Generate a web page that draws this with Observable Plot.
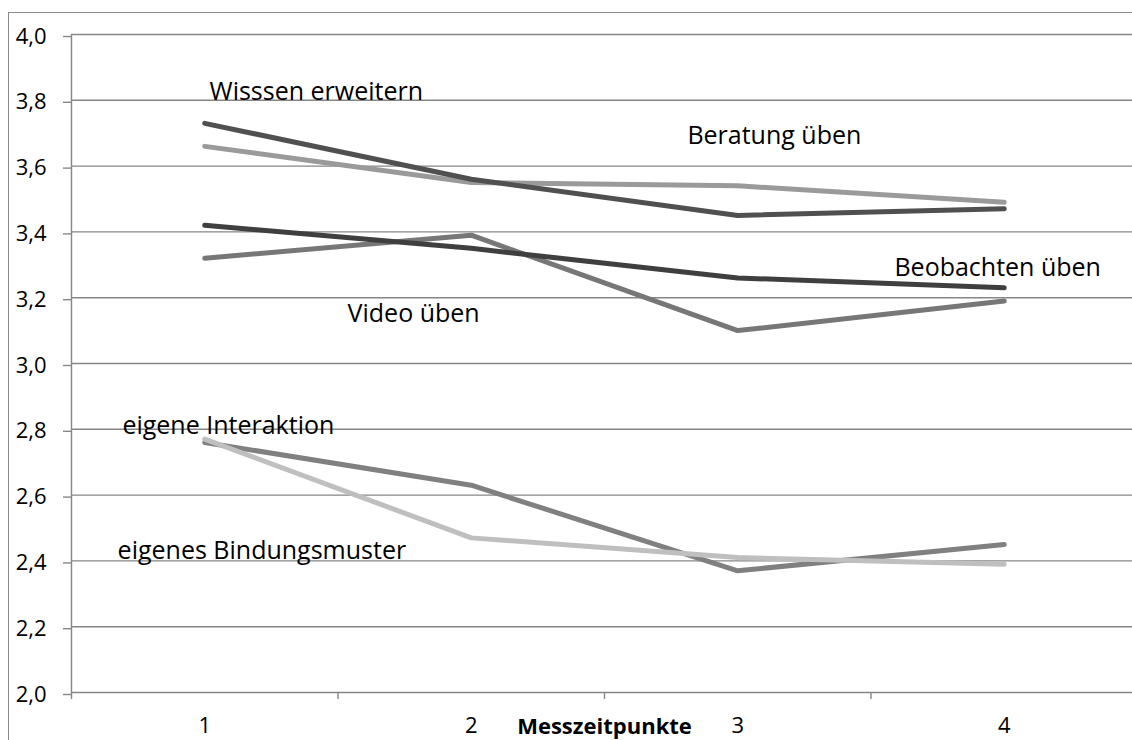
<!DOCTYPE html>
<html>
<head>
<meta charset="utf-8">
<script src="https://cdn.jsdelivr.net/npm/d3@7"></script>
<script src="https://cdn.jsdelivr.net/npm/@observablehq/plot@0.6"></script>
<style>
  html, body { margin: 0; padding: 0; background: #fff; overflow: hidden; }
  #wrap { position: relative; width: 1132px; height: 740px; }
  #frame { position: absolute; left: 8px; top: 12px; width: 2000px; height: 2000px;
           border-left: 1.5px solid #8a8a8a; border-top: 1.5px solid #8a8a8a; pointer-events: none; }
  svg { display: block; }
</style>
</head>
<body>
<div id="wrap"><div id="frame"></div></div>
<script>
// Messzeitpunkte (time points)
const timepoints = [1, 2, 3, 4];

// Series values (mean ratings)
const wissenErweitern      = [3.73, 3.56, 3.45, 3.47];
const beratungUeben        = [3.66, 3.55, 3.54, 3.49];
const beobachtenUeben      = [3.42, 3.35, 3.26, 3.23];
const videoUeben           = [3.32, 3.39, 3.10, 3.19];
const eigeneInteraktion    = [2.76, 2.63, 2.37, 2.45];
const eigenesBindungsmuster= [2.77, 2.47, 2.41, 2.39];

const seriesNames = ["Wisssen erweitern", "Beratung üben", "Beobachten üben", "Video üben", "eigene Interaktion", "eigenes Bindungsmuster"];
const seriesValues = [wissenErweitern, beratungUeben, beobachtenUeben, videoUeben, eigeneInteraktion, eigenesBindungsmuster];
const seriesColors = ["#505050", "#9a9a9a", "#3f3f3f", "#777777", "#808080", "#bfbfbf"];
const drawOrder = [3, 2, 1, 0, 4, 5];

const yTicks = [2.0, 2.2, 2.4, 2.6, 2.8, 3.0, 3.2, 3.4, 3.6, 3.8, 4.0];

// label anchor points in data units (x: time point scale, y: value scale)
const labelX = [1.018, 2.811, 3.588, 1.536, 0.691, 0.673];
const labelY = [3.800, 3.666, 3.267, 3.125, 2.787, 2.407];

const rows = [];
drawOrder.forEach(s => timepoints.forEach((t, i) => rows.push({series: seriesNames[s], t, v: seriesValues[s][i]})));
const labels = seriesNames.map((name, i) => ({name, x: labelX[i], y: labelY[i]}));

const font = "'Open Sans', 'DejaVu Sans', sans-serif";
const grid = "#868686";

const chart = Plot.plot({
  width: 1132,
  height: 740,
  marginTop: 34,
  marginBottom: 48,
  marginLeft: 71,
  marginRight: 0,
  style: {fontFamily: font, background: "transparent", overflow: "visible"},
  x: {domain: [0.5, 4.5], range: [71, 1137]},
  y: {domain: [2, 4], range: [692, 34]},
  color: {domain: seriesNames, range: seriesColors},
  marks: [
    Plot.gridY(yTicks, {stroke: grid, strokeOpacity: 1, strokeWidth: 1.4}),
    Plot.axisY({ticks: yTicks, tickFormat: d => d.toFixed(1).replace(".", ","), tickSize: 8,
                tickPadding: 17, stroke: grid, strokeOpacity: 1, strokeWidth: 1.4, fontSize: 22, fill: "#000", dy: 2, label: null}),
    Plot.ruleX([0.5], {y1: 2, y2: 4, stroke: grid, strokeWidth: 1.4}),
    Plot.axisX({ticks: [0.5, 1.5, 2.5, 3.5], tickFormat: () => "", tickSize: 7, stroke: grid, strokeOpacity: 1, strokeWidth: 1.4, label: null}),
    Plot.axisX({ticks: timepoints, tickFormat: d => String(d), tickSize: 0, tickPadding: 25, fontSize: 22, fill: "#000", label: null}),
    Plot.text(["Messzeitpunkte"], {x: 2.5, y: 2, dy: 41, text: d => d, fontWeight: "bold", fontSize: 22, fill: "#000", lineAnchor: "bottom", textAnchor: "middle"}),
    Plot.line(rows, {x: "t", y: "v", z: "series", stroke: "series", strokeWidth: 5, strokeLinecap: "round", strokeLinejoin: "round"}),
    Plot.text(labels, {x: "x", y: "y", text: "name", textAnchor: "start", lineAnchor: "bottom", fontSize: 25, fill: "#000"})
  ]
});
document.getElementById("wrap").prepend(chart);
</script>
</body>
</html>
